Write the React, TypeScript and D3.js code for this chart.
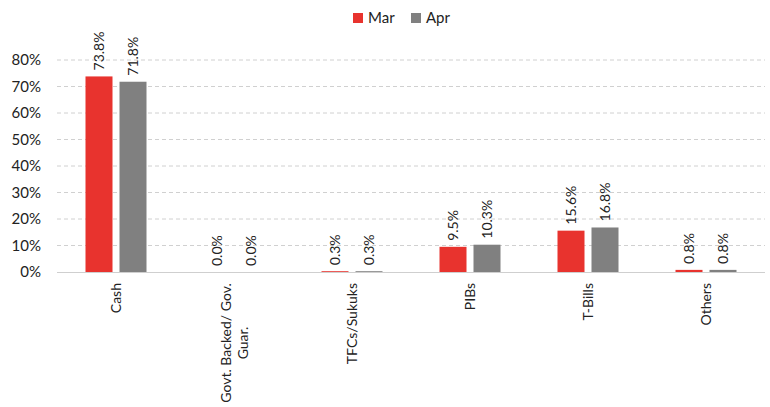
import React from "react";
import * as d3 from "d3";

const categories = ["Cash", "Govt. Backed/ Gov. Guar.", "TFCs/Sukuks", "PIBs", "T-Bills", "Others"];
const categoryLines = [["Cash"], ["Govt. Backed/ Gov.", "Guar."], ["TFCs/Sukuks"], ["PIBs"], ["T-Bills"], ["Others"]];
const seriesNames = ["Mar", "Apr"];
const marValues = [73.8, 0.0, 0.3, 9.5, 15.6, 0.8];
const aprValues = [71.8, 0.0, 0.3, 10.3, 16.8, 0.8];
const yTicks = [0, 10, 20, 30, 40, 50, 60, 70, 80];
const colors = ["#E8332E", "#808080"];

const W = 770, H = 407;
const FONT = "Lato, 'Open Sans', sans-serif";

export default function App() {
  const x = d3.scaleBand<string>().domain(categories).range([57, 765]);
  const y = d3.scaleLinear().domain([0, 80]).range([272, 60]);
  const barW = 27;
  const gap = 7;
  const series = [marValues, aprValues];
  return (
    <svg width={W} height={H} style={{ position: "absolute", left: 0, top: 0, background: "#fff" }} fontFamily={FONT}>
      {yTicks.map((t) => (
        <g key={t}>
          {t > 0 && (
            <line x1={57} x2={765} y1={y(t)} y2={y(t)} stroke="#d0d0d0" strokeDasharray="4,3" strokeWidth={1} />
          )}
          <text x={41} y={y(t)} dy="0.35em" textAnchor="end" fontSize={15} fill="#222">{t}%</text>
        </g>
      ))}
      <line x1={57} x2={765} y1={272.5} y2={272.5} stroke="#cfcfcf" strokeWidth={1} />
      {categories.map((c, i) => {
        const cx = (x(c) as number) + x.bandwidth() / 2;
        return (
          <g key={c}>
            {series.map((vals, s) => {
              const bx = s === 0 ? cx - gap / 2 - barW : cx + gap / 2;
              const top = y(vals[i]);
              const lx = bx + barW / 2;
              return (
                <g key={s}>
                  <rect x={bx} y={top} width={barW} height={272 - top} fill={colors[s]} />
                  <text transform={`translate(${lx + 5},${top - 6}) rotate(-90)`} fontSize={14} fill="#222" textAnchor="start">
                    {vals[i].toFixed(1)}%
                  </text>
                </g>
              );
            })}
            {categoryLines[i].map((ln, k) => {
              const n = categoryLines[i].length;
              const off = (k - (n - 1) / 2) * 17;
              return n > 1 ? (
                <text key={k} transform={`translate(${cx + off + 5},${343}) rotate(-90)`} fontSize={14} fill="#222" textAnchor="middle">
                  {ln}
                </text>
              ) : (
                <text key={k} transform={`translate(${cx + 5},${283}) rotate(-90)`} fontSize={14} fill="#222" textAnchor="end">
                  {ln}
                </text>
              );
            })}
          </g>
        );
      })}
      {seriesNames.map((nm, i) => {
        const lx = 353 + i * 58;
        return (
          <g key={nm}>
            <rect x={lx} y={13} width={10} height={10} fill={colors[i]} />
            <text x={lx + 15} y={18} dy="0.35em" fontSize={15} fill="#222">{nm}</text>
          </g>
        );
      })}
    </svg>
  );
}
